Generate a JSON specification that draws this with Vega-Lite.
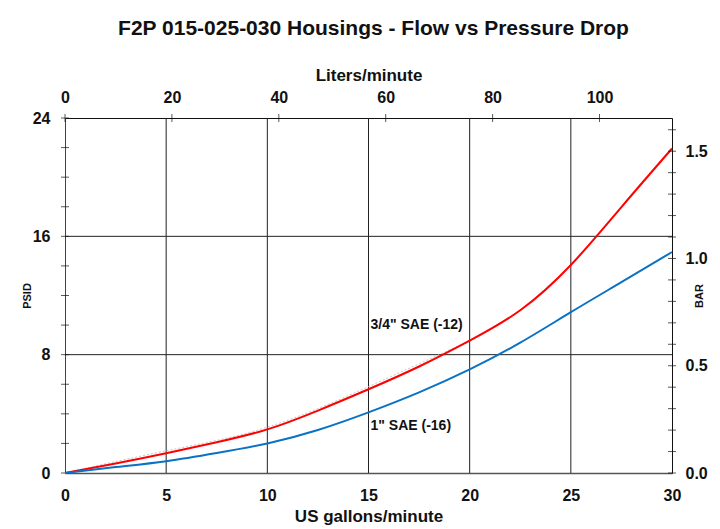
{
  "$schema": "https://vega.github.io/schema/vega-lite/v6.json",
  "width": 607,
  "height": 355,
  "autosize": {"type": "none"},
  "padding": {"left": 65, "top": 118, "right": 48, "bottom": 56},
  "background": "white",
  "config": {
    "view": {"stroke": "#111", "strokeWidth": 1},
    "font": "Liberation Sans",
    "axis": {"labelColor": "#111", "titleColor": "#111", "labelFontWeight": "bold", "titleFontWeight": "bold", "labelFlush": false, "labelOverlap": false}
  },
  "title": {
    "text": "F2P 015-025-030 Housings - Flow vs Pressure Drop",
    "fontSize": 21,
    "fontWeight": "bold",
    "color": "#111",
    "anchor": "middle",
    "offset": 27,
    "dx": 5
  },
  "datasets": {
    "curves": [
      {"series": "3/4 SAE", "gpm": 0, "psi": 0},
      {"series": "3/4 SAE", "gpm": 2.5, "psi": 0.64},
      {"series": "3/4 SAE", "gpm": 5, "psi": 1.33},
      {"series": "3/4 SAE", "gpm": 7.5, "psi": 2.08},
      {"series": "3/4 SAE", "gpm": 10, "psi": 2.95},
      {"series": "3/4 SAE", "gpm": 12.5, "psi": 4.22},
      {"series": "3/4 SAE", "gpm": 15, "psi": 5.66},
      {"series": "3/4 SAE", "gpm": 17.5, "psi": 7.2},
      {"series": "3/4 SAE", "gpm": 20, "psi": 8.95},
      {"series": "3/4 SAE", "gpm": 22.5, "psi": 11.0},
      {"series": "3/4 SAE", "gpm": 25, "psi": 14.06},
      {"series": "3/4 SAE", "gpm": 27.5, "psi": 17.98},
      {"series": "3/4 SAE", "gpm": 30, "psi": 21.94},
      {"series": "1 SAE", "gpm": 0, "psi": 0},
      {"series": "1 SAE", "gpm": 2.5, "psi": 0.4},
      {"series": "1 SAE", "gpm": 5, "psi": 0.8},
      {"series": "1 SAE", "gpm": 7.5, "psi": 1.35},
      {"series": "1 SAE", "gpm": 10, "psi": 2.0},
      {"series": "1 SAE", "gpm": 12.5, "psi": 2.91},
      {"series": "1 SAE", "gpm": 15, "psi": 4.1},
      {"series": "1 SAE", "gpm": 17.5, "psi": 5.45},
      {"series": "1 SAE", "gpm": 20, "psi": 7.0},
      {"series": "1 SAE", "gpm": 22.5, "psi": 8.81},
      {"series": "1 SAE", "gpm": 25, "psi": 10.87},
      {"series": "1 SAE", "gpm": 27.5, "psi": 12.9},
      {"series": "1 SAE", "gpm": 30, "psi": 14.94}
    ],
    "guide": [
      {"gpm": 0, "psi": 0},
      {"gpm": 5, "psi": 1.5},
      {"gpm": 10, "psi": 3.1},
      {"gpm": 15, "psi": 5.84},
      {"gpm": 19.7, "psi": 8.75}
    ],
    "vgrid": [{"gpm": 5}, {"gpm": 10}, {"gpm": 15}, {"gpm": 20}, {"gpm": 25}],
    "hgrid": [{"psi": 8}, {"psi": 16}],
    "lticks": [{"psi": 0}, {"psi": 2}, {"psi": 4}, {"psi": 6}, {"psi": 8}, {"psi": 10}, {"psi": 12}, {"psi": 14}, {"psi": 16}, {"psi": 18}, {"psi": 20}, {"psi": 22}, {"psi": 24}],
    "labels": [
      {"gpm": 15.1, "psi": 10.0, "label": "3/4\" SAE (-12)"},
      {"gpm": 15.1, "psi": 3.2, "label": "1\" SAE (-16)"}
    ],
    "liters": [{"liters": 0}, {"liters": 20}, {"liters": 40}, {"liters": 60}, {"liters": 80}, {"liters": 100}],
    "bar": [{"bar": 0}, {"bar": 0.1}, {"bar": 0.2}, {"bar": 0.3}, {"bar": 0.4}, {"bar": 0.5}, {"bar": 0.6}, {"bar": 0.7}, {"bar": 0.8}, {"bar": 0.9}, {"bar": 1.0}, {"bar": 1.1}, {"bar": 1.2}, {"bar": 1.3}, {"bar": 1.4}, {"bar": 1.5}, {"bar": 1.6}]
  },
  "layer": [
    {
      "layer": [
        {
          "data": {"name": "vgrid"},
          "mark": {"type": "rule", "color": "#222", "strokeWidth": 1},
          "encoding": {
            "x": {
              "field": "gpm", "type": "quantitative",
              "scale": {"domain": [0, 30], "nice": false},
              "axis": {
                "orient": "bottom", "title": "US gallons/minute",
                "values": [0, 5, 10, 15, 20, 25, 30],
                "ticks": false, "tickSize": 0, "grid": false,
                "domainColor": "#555", "domainWidth": 1.5,
                "labelFontSize": 16, "labelPadding": 14,
                "titleFontSize": 17, "titlePadding": 5
              }
            }
          }
        },
        {
          "data": {"name": "hgrid"},
          "mark": {"type": "rule", "color": "#222", "strokeWidth": 1},
          "encoding": {
            "y": {
              "field": "psi", "type": "quantitative",
              "scale": {"domain": [0, 24], "nice": false},
              "axis": {
                "orient": "left", "title": "PSID",
                "values": [0, 8, 16, 24],
                "ticks": false, "tickSize": 0, "grid": false,
                "domainColor": "#444",
                "labelFontSize": 16, "labelPadding": 15,
                "titleFontSize": 11, "titlePadding": 0
              }
            }
          }
        },
        {
          "data": {"name": "lticks"},
          "mark": {"type": "tick", "orient": "horizontal", "color": "#111", "size": 8, "thickness": 1},
          "encoding": {
            "y": {"field": "psi", "type": "quantitative"},
            "x": {"datum": 0, "type": "quantitative"}
          }
        },
        {
          "data": {"name": "guide"},
          "mark": {"type": "line", "color": "#c4c4c4", "strokeWidth": 1, "strokeDash": [2, 2], "interpolate": "natural"},
          "encoding": {
            "x": {"field": "gpm", "type": "quantitative"},
            "y": {"field": "psi", "type": "quantitative"}
          }
        },
        {
          "data": {"name": "curves"},
          "mark": {"type": "line", "strokeWidth": 2, "interpolate": "natural"},
          "encoding": {
            "x": {"field": "gpm", "type": "quantitative"},
            "y": {"field": "psi", "type": "quantitative"},
            "color": {
              "field": "series", "type": "nominal",
              "scale": {"domain": ["3/4 SAE", "1 SAE"], "range": ["#ff0000", "#0a72c4"]},
              "legend": null
            }
          }
        },
        {
          "data": {"name": "labels"},
          "mark": {"type": "text", "align": "left", "baseline": "middle", "fontSize": 14, "fontWeight": "bold", "color": "#111"},
          "encoding": {
            "x": {"field": "gpm", "type": "quantitative"},
            "y": {"field": "psi", "type": "quantitative"},
            "text": {"field": "label"}
          }
        }
      ]
    },
    {
      "data": {"name": "liters"},
      "mark": {"type": "tick", "orient": "vertical", "color": "#111", "size": 8, "thickness": 1},
      "encoding": {
        "x": {
          "field": "liters", "type": "quantitative",
          "scale": {"domain": [0, 113.56], "nice": false, "zero": true},
          "axis": {
            "orient": "top", "title": "Liters/minute",
            "values": [0, 20, 40, 60, 80, 100],
            "ticks": false, "tickSize": 0, "grid": false, "domain": false,
            "labelFontSize": 16, "labelPadding": 13,
            "titleFontSize": 17, "titlePadding": 5
          }
        },
        "y": {"datum": 24, "type": "quantitative", "scale": {"domain": [0, 24], "nice": false}, "axis": null}
      }
    },
    {
      "data": {"name": "bar"},
      "mark": {"type": "tick", "orient": "horizontal", "color": "#111", "size": 8, "thickness": 1},
      "encoding": {
        "y": {
          "field": "bar", "type": "quantitative",
          "scale": {"domain": [0, 1.6547], "nice": false},
          "axis": {
            "orient": "right", "title": "BAR",
            "values": [0, 0.5, 1, 1.5], "format": ".1f",
            "ticks": false, "tickSize": 0, "grid": false, "domain": false,
            "labelFontSize": 16, "labelPadding": 13,
            "titleFontSize": 11, "titlePadding": -3, "titleAngle": 270
          }
        },
        "x": {"datum": 30, "type": "quantitative", "scale": {"domain": [0, 30], "nice": false}, "axis": null}
      }
    }
  ],
  "resolve": {"scale": {"x": "independent", "y": "independent"}}
}
